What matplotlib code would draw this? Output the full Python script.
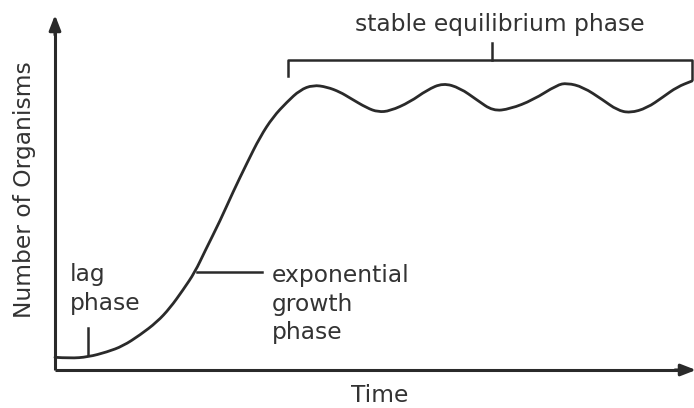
import matplotlib
matplotlib.use("Agg")
import matplotlib.pyplot as plt
from matplotlib.path import Path
from matplotlib.patches import PathPatch

# Curve (time units, number of organisms units)
time = [0, 15, 33, 52, 68, 85, 102, 115, 128, 140, 150, 165, 178, 192, 205,
        218, 232, 245, 258, 272, 285, 295, 312, 323, 335, 355, 372, 388, 405,
        422, 438, 455, 478, 502, 512, 528, 548, 562, 575, 592, 608, 622, 637]
organisms = [12.7, 11.7, 13, 18, 24, 35, 48, 62, 80, 98, 119, 149, 178, 207, 233,
             253, 268, 280, 285, 283, 278, 272, 262, 258, 259, 268, 280, 287, 282,
             270, 259, 261, 270, 285, 287, 283, 270, 260, 257, 262, 273, 283, 289]

x_label = "Time"
y_label = "Number of Organisms"
phase_labels = ["lag\nphase", "exponential\ngrowth\nphase", "stable equilibrium phase"]

ink = "#2a2a2a"
txt = "#333333"
fs = 16.8

fig = plt.figure(figsize=(6.94, 4.08), dpi=100)
ax = fig.add_axes([55/694, 38/408, 637/694, 355/408])
ax.set_xlim(0, 637)
ax.set_ylim(0, 355)
ax.axis("off")

# axes with arrows
ax.plot([0, 0], [0, 340], color=ink, lw=2.2, clip_on=False, solid_capstyle="butt")
ax.plot([0, 625], [0, 0], color=ink, lw=2.2, clip_on=False, solid_capstyle="butt")
ax.annotate("", xy=(0, 355), xytext=(0, 335),
            arrowprops=dict(arrowstyle="-|>,head_length=0.9,head_width=0.35",
                            color=ink, lw=2.2, shrinkA=0, shrinkB=0),
            annotation_clip=False)
ax.annotate("", xy=(641, 0), xytext=(620, 0),
            arrowprops=dict(arrowstyle="-|>,head_length=0.9,head_width=0.35",
                            color=ink, lw=2.2, shrinkA=0, shrinkB=0),
            annotation_clip=False)

# growth curve: smooth quadratic path through midpoints of the read points
verts = [(time[0], organisms[0])]
codes = [Path.MOVETO]
for i in range(1, len(time) - 1):
    mx = (time[i] + time[i + 1]) / 2
    my = (organisms[i] + organisms[i + 1]) / 2
    verts += [(time[i], organisms[i]), (mx, my)]
    codes += [Path.CURVE3, Path.CURVE3]
verts.append((time[-1], organisms[-1]))
codes.append(Path.LINETO)
ax.add_patch(PathPatch(Path(verts, codes), facecolor="none", edgecolor=ink,
                       lw=2.0, clip_on=False, joinstyle="round", capstyle="round"))

# lag phase
ax.plot([33, 33], [15, 42], color=ink, lw=1.8)
ax.text(15, 81, phase_labels[0], ha="left", va="center", fontsize=fs,
        color=txt, linespacing=1.3)

# exponential phase
ax.plot([142, 207], [98, 98], color=ink, lw=1.8)
ax.text(217, 66, phase_labels[1], ha="left", va="center", fontsize=fs,
        color=txt, linespacing=1.3)

# stable equilibrium bracket
ax.plot([233, 233, 637, 637], [294, 310, 310, 291], color=ink, lw=1.8,
        clip_on=False)
ax.plot([437, 437], [310, 327], color=ink, lw=1.8, clip_on=False)
ax.text(445, 345, phase_labels[2], ha="center", va="center", fontsize=fs,
        color=txt)

# axis labels
fig.text(25/694, 1 - 190/408, y_label, rotation=90, ha="center", va="center",
         fontsize=fs, color=txt)
fig.text(380/694, 1 - 395/408, x_label, ha="center", va="center",
         fontsize=fs, color=txt)

fig.savefig("out.png", dpi=100)
